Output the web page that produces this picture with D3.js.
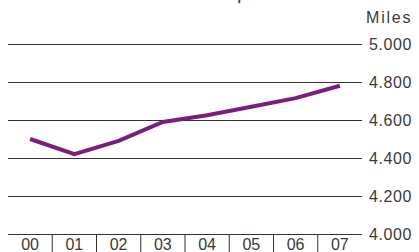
<!DOCTYPE html>
<html>
<head>
<meta charset="utf-8">
<script src="https://cdn.jsdelivr.net/npm/d3@7"></script>
<style>
  body { margin: 0; background: #fff; }
  text { font-family: "Liberation Sans", Arial, sans-serif; fill: #3a3a3a; }
</style>
</head>
<body>
<svg id="chart" width="419" height="252"></svg>
<script>
var years = ["00", "01", "02", "03", "04", "05", "06", "07"];
var miles = [4500, 4420, 4490, 4590, 4625, 4670, 4715, 4780];
var yTicks = [4000, 4200, 4400, 4600, 4800, 5000];

var svg = d3.select("#chart");

var x = d3.scaleBand()
  .domain(years)
  .range([8, 362]);

var y = d3.scaleLinear()
  .domain([4000, 5000])
  .range([234, 44]);

// cut-off title descender
svg.append("text")
  .attr("x", 237)
  .attr("y", -1)
  .style("font-size", "20px")
  .text("p");

// gridlines + right labels
var yAxis = d3.axisRight(y)
  .tickValues(yTicks)
  .tickSize(354)
  .tickPadding(7)
  .tickFormat(function(d) { return d3.format(".3f")(d / 1000); });

var ga = svg.append("g")
  .attr("transform", "translate(8,0)")
  .call(yAxis);
ga.select(".domain").remove();
ga.selectAll("line").attr("stroke", "#333").attr("stroke-width", 1.2);
ga.selectAll("text")
  .style("font-size", "16px")
  .style("letter-spacing", "0.6px")
  .attr("dy", "0.35em");

svg.append("text")
  .attr("x", 366)
  .attr("y", 23)
  .style("font-size", "16px")
  .style("letter-spacing", "1.8px")
  .text("Miles");

// category separators
svg.append("g")
  .selectAll("line")
  .data(years.slice(1))
  .enter().append("line")
  .attr("x1", function(d) { return x(d); })
  .attr("x2", function(d) { return x(d); })
  .attr("y1", 234)
  .attr("y2", 252)
  .attr("stroke", "#333")
  .attr("stroke-width", 1);

svg.append("g")
  .selectAll("text")
  .data(years)
  .enter().append("text")
  .attr("x", function(d) { return x(d) + x.bandwidth() / 2; })
  .attr("y", 250)
  .attr("text-anchor", "middle")
  .style("font-size", "16px")
  .text(function(d) { return d; });

var line = d3.line()
  .x(function(d, i) { return x(years[i]) + x.bandwidth() / 2; })
  .y(function(d) { return y(d); });

svg.append("path")
  .datum(miles)
  .attr("fill", "none")
  .attr("stroke", "#7b1d7e")
  .attr("stroke-width", 4)
  .attr("d", line);
</script>
</body>
</html>
